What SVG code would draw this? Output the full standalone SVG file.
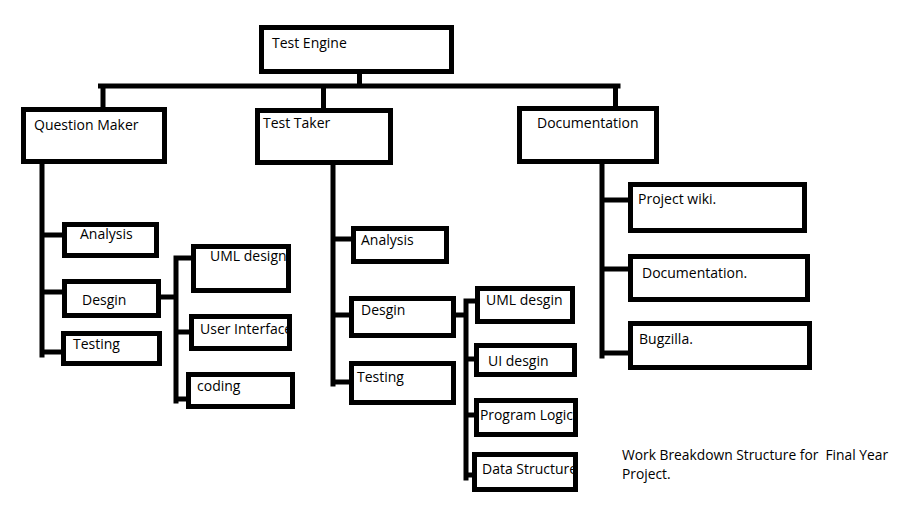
<svg xmlns="http://www.w3.org/2000/svg" width="923" height="511" viewBox="0 0 923 511">
<style>
.box{fill:#fff;stroke:#000;stroke-width:5}
.lbl{font-family:"Open Sans","Noto Sans",sans-serif;font-size:14px;fill:#000}
.cap{font-size:13.8px}
.con{fill:none;stroke:#000;stroke-width:5;stroke-linecap:square}
</style>
<rect width="923" height="511" fill="#fff"/>
<g id="connectors" class="con">
<path d="M359.5 74V86M100.5 86H618M103 86V107M323.5 86V108M615.5 86V106"/>
<path d="M42 164V355M42 235H63M42 292H63M42 352H62"/>
<path d="M161 297H176M176 258V401M176 258H191M176 332H189M176 399H186"/>
<path d="M333 165V384M333 239H351M333 315H349M333 382H349"/>
<path d="M456 315H466M466 301V478M466 301H475M466 359H474M466 415H474M466 475H472"/>
<path d="M602 164V356M602 200H628M602 269H628M602 353H628"/>
</g>
<g id="test-engine"><rect class="box" x="261.5" y="27.5" width="190" height="44"/><text class="lbl" x="272" y="48">Test Engine</text></g>
<g id="question-maker"><rect class="box" x="23.5" y="109.5" width="141" height="52"/><text class="lbl" x="34" y="130">Question Maker</text></g>
<g id="test-taker"><rect class="box" x="257.5" y="110.5" width="133" height="52"/><text class="lbl" x="263" y="128">Test Taker</text></g>
<g id="documentation"><rect class="box" x="519.5" y="108.5" width="137" height="53"/><text class="lbl" x="537" y="128">Documentation</text></g>
<g id="qm-analysis"><rect class="box" x="64.5" y="224.5" width="92" height="31"/><text class="lbl" x="80" y="239">Analysis</text></g>
<g id="qm-desgin"><rect class="box" x="64.5" y="281.5" width="94" height="34"/><text class="lbl" x="82" y="305">Desgin</text></g>
<g id="qm-testing"><rect class="box" x="63.5" y="333.5" width="96" height="30"/><text class="lbl" x="73" y="349">Testing</text></g>
<g id="qm-uml"><rect class="box" x="193.5" y="246.5" width="95" height="44"/><text class="lbl" x="210" y="261">UML design</text><rect x="286" y="244" width="5" height="49" fill="#000"/></g>
<g id="qm-ui"><rect class="box" x="191.5" y="316.5" width="98" height="32"/><text class="lbl" x="200" y="334">User Interface</text><rect x="287" y="314" width="5" height="37" fill="#000"/></g>
<g id="qm-coding"><rect class="box" x="188.5" y="374.5" width="104" height="32"/><text class="lbl" x="197" y="391">coding</text></g>
<g id="tt-analysis"><rect class="box" x="353.5" y="228.5" width="93" height="33"/><text class="lbl" x="361" y="245">Analysis</text></g>
<g id="tt-desgin"><rect class="box" x="351.5" y="298.5" width="102" height="37"/><text class="lbl" x="361" y="315">Desgin</text></g>
<g id="tt-testing"><rect class="box" x="351.5" y="363.5" width="102" height="39"/><text class="lbl" x="357" y="382">Testing</text></g>
<g id="tt-uml"><rect class="box" x="477.5" y="288.5" width="95" height="33"/><text class="lbl" x="486" y="305">UML desgin</text></g>
<g id="tt-ui"><rect class="box" x="476.5" y="345.5" width="98" height="29"/><text class="lbl" x="488" y="366">UI desgin</text></g>
<g id="tt-logic"><rect class="box" x="476.5" y="400.5" width="99" height="34"/><text class="lbl" x="480" y="420" textLength="93" lengthAdjust="spacingAndGlyphs">Program Logic</text></g>
<g id="tt-data"><rect class="box" x="474.5" y="454.5" width="101" height="35"/><text class="lbl" x="482" y="474">Data Structure</text><rect x="573" y="452" width="5" height="40" fill="#000"/></g>
<g id="doc-wiki"><rect class="box" x="630.5" y="184.5" width="174" height="46"/><text class="lbl" x="638" y="204">Project wiki.</text></g>
<g id="doc-documentation"><rect class="box" x="630.5" y="256.5" width="177" height="43"/><text class="lbl" x="642" y="278">Documentation.</text></g>
<g id="doc-bugzilla"><rect class="box" x="630.5" y="323.5" width="179" height="44"/><text class="lbl" x="639" y="344">Bugzilla.</text></g>
<g id="caption"><text class="lbl cap" x="622" y="460" xml:space="preserve">Work Breakdown Structure for  Final Year</text><text class="lbl cap" x="622" y="479">Project.</text></g>
</svg>
